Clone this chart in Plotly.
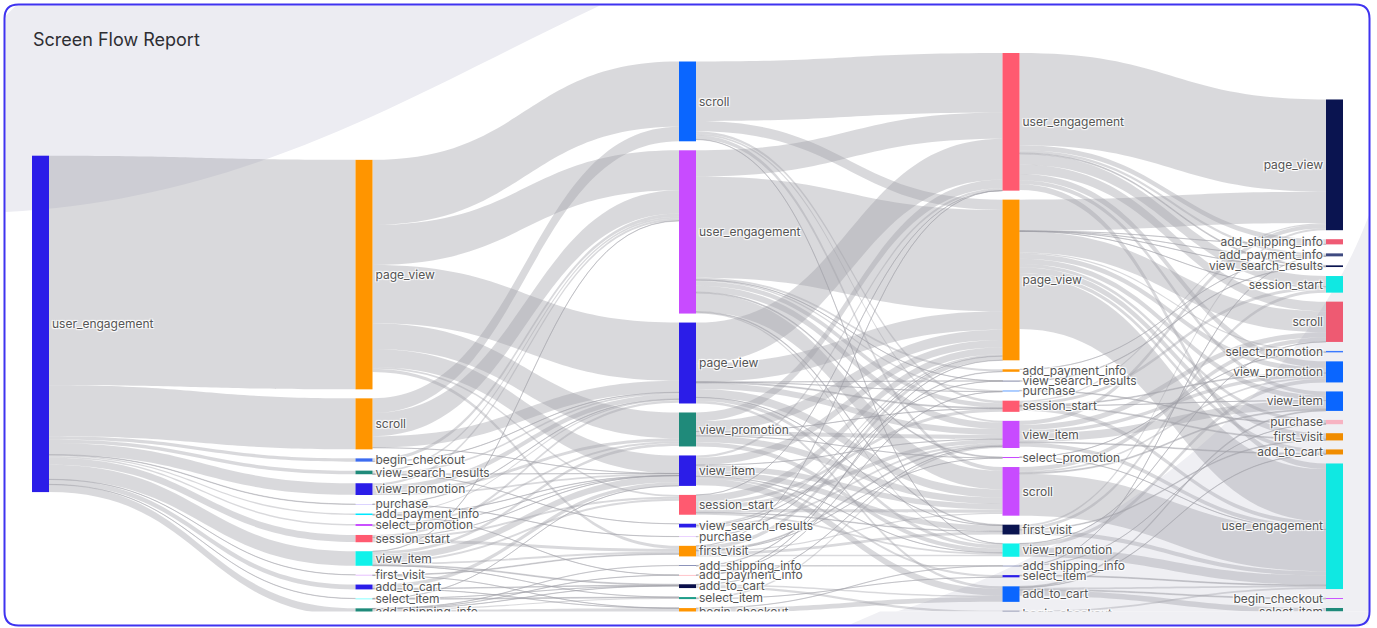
import plotly.graph_objects as go

W, H = 1377, 628

# ---------------- data ----------------
step1_nodes = ["user_engagement"]
step2_nodes = ["page_view", "scroll", "begin_checkout", "view_search_results", "view_promotion",
               "purchase", "add_payment_info", "select_promotion", "session_start", "view_item",
               "add_to_cart", "first_visit", "select_item", "add_shipping_info"]
step3_nodes = ["scroll", "user_engagement", "page_view", "view_promotion", "view_item",
               "session_start", "first_visit", "view_search_results", "purchase", "add_payment_info",
               "add_shipping_info", "add_to_cart", "select_item", "begin_checkout"]
step4_nodes = ["user_engagement", "page_view", "add_payment_info", "purchase", "view_search_results",
               "session_start", "view_item", "first_visit", "select_promotion", "select_item",
               "scroll", "add_shipping_info", "begin_checkout", "view_promotion", "add_to_cart"]
step5_nodes = ["page_view", "add_shipping_info", "view_search_results", "add_payment_info",
               "select_promotion", "session_start", "scroll", "view_promotion", "view_item",
               "purchase", "first_visit", "add_to_cart", "user_engagement", "begin_checkout",
               "select_item"]

step1_colors = ["#2b1de8"]
step2_colors = ["#ff9500", "#ff9500", "#3d6cf0", "#1f8a7a", "#2b1de8", "#b9a9ff", "#00e8ff",
                "#c84bff", "#ff5a70", "#10f2ea", "#2b1de8", "#e0b0ff", "#80ffff", "#1f8a7a"]
step3_colors = ["#0a66ff", "#c84bff", "#2b1de8", "#1f8a7a", "#2b1de8", "#ff5a70", "#ff9500",
                "#2b1de8", "#d6a6ff", "#ff8a96", "#2e3a80", "#0a0f4a", "#1f9e8a", "#ff9500"]
step4_colors = ["#ff5a70", "#ff9500", "#ff9500", "#8ab8ff", "#0a1450", "#ff5a70", "#c84bff",
                "#0a1450", "#c84bff", "#2b1de8", "#c84bff", "#2e3a80", "#0a1450", "#10f2ea", "#0a66ff"]
step5_colors = ["#0a1450", "#ef5a74", "#0a1450", "#3e4a80", "#3a7aff", "#10e8e2", "#ee5a72",
                "#0a66ff", "#0a66ff", "#f7b3c2", "#f08c00", "#f08c00", "#10e8e2", "#c84bff", "#1f8a7a"]

flow_1_2 = [
    ("user_engagement", "page_view", 232.1), ("user_engagement", "scroll", 51.6),
    ("user_engagement", "begin_checkout", 3.3), ("user_engagement", "view_search_results", 3.6),
    ("user_engagement", "view_promotion", 11.6), ("user_engagement", "purchase", 0.45),
    ("user_engagement", "add_payment_info", 1.4), ("user_engagement", "select_promotion", 1.5),
    ("user_engagement", "session_start", 7), ("user_engagement", "view_item", 14.7),
    ("user_engagement", "add_to_cart", 4.9), ("user_engagement", "first_visit", 0.2),
    ("user_engagement", "select_item", 0.25), ("user_engagement", "add_shipping_info", 7.6),
]

flow_2_3 = [
    ("page_view", "scroll", 65.9), ("page_view", "user_engagement", 40.5), ("page_view", "page_view", 58.9),
    ("page_view", "view_promotion", 26.1), ("page_view", "view_item", 18.2), ("page_view", "session_start", 1.8),
    ("page_view", "first_visit", 3.1),
    ("scroll", "user_engagement", 23.5), ("scroll", "page_view", 11.6), ("scroll", "scroll", 14.8),
    ("scroll", "view_item", 0.1),
    ("begin_checkout", "user_engagement", 3.1), ("begin_checkout", "page_view", 0.2),
    ("view_search_results", "page_view", 1.7), ("view_search_results", "user_engagement", 1.8),
    ("view_search_results", "view_search_results", 0.1), ("view_search_results", "view_item", 0.05),
    ("view_promotion", "page_view", 4.9), ("view_promotion", "view_promotion", 3),
    ("view_promotion", "user_engagement", 2.3), ("view_promotion", "view_item", 1.7),
    ("purchase", "page_view", 0.35), ("purchase", "purchase", 0.15),
    ("add_payment_info", "page_view", 1.1), ("add_payment_info", "add_payment_info", 0.15),
    ("add_payment_info", "view_item", 0.3),
    ("select_promotion", "view_item", 0.05), ("select_promotion", "view_promotion", 1.9),
    ("session_start", "page_view", 2.4), ("session_start", "session_start", 2),
    ("session_start", "first_visit", 2.9), ("session_start", "view_item", 0.05),
    ("view_item", "view_item", 6.6), ("view_item", "user_engagement", 0.25), ("view_item", "session_start", 2.1),
    ("view_item", "first_visit", 1.9), ("view_item", "add_to_cart", 0.9), ("view_item", "select_item", 0.05),
    ("view_item", "view_promotion", 2.8),
    ("add_to_cart", "view_item", 3.7), ("add_to_cart", "begin_checkout", 0.1), ("add_to_cart", "add_to_cart", 0.6),
    ("first_visit", "first_visit", 0.75), ("first_visit", "begin_checkout", 0.05),
    ("select_item", "add_to_cart", 0.1), ("select_item", "view_item", 0.05), ("select_item", "select_item", 0.8),
    ("add_shipping_info", "begin_checkout", 6), ("add_shipping_info", "add_payment_info", 0.15),
    ("add_shipping_info", "add_shipping_info", 0.2), ("add_shipping_info", "add_to_cart", 0.2),
    ("add_shipping_info", "select_item", 1.2),
]

flow_3_4 = [
    ("scroll", "user_engagement", 60.1), ("scroll", "page_view", 10.5), ("scroll", "scroll", 3.8),
    ("scroll", "view_item", 1.8), ("scroll", "view_promotion", 0.3), ("scroll", "session_start", 2.5),
    ("user_engagement", "page_view", 102.4), ("user_engagement", "user_engagement", 26.5),
    ("user_engagement", "scroll", 18.7), ("user_engagement", "view_item", 6.4),
    ("user_engagement", "session_start", 4.5), ("user_engagement", "first_visit", 0.8),
    ("user_engagement", "view_promotion", 1.3), ("user_engagement", "select_promotion", 0.95),
    ("user_engagement", "add_payment_info", 2.1), ("user_engagement", "view_search_results", 0.15),
    ("user_engagement", "purchase", 1.3),
    ("page_view", "user_engagement", 41.4), ("page_view", "page_view", 18.7), ("page_view", "scroll", 8.4),
    ("page_view", "view_item", 6), ("page_view", "view_promotion", 3.5), ("page_view", "session_start", 1),
    ("page_view", "first_visit", 0.1), ("page_view", "add_to_cart", 2.6),
    ("page_view", "view_search_results", 0.1), ("page_view", "purchase", 0.05),
    ("view_promotion", "page_view", 10.3), ("view_promotion", "scroll", 6.4),
    ("view_promotion", "user_engagement", 8.9), ("view_promotion", "view_item", 4.3),
    ("view_promotion", "view_promotion", 4.3), ("view_promotion", "select_promotion", 0.05),
    ("view_promotion", "session_start", 0.1),
    ("view_item", "page_view", 7.5), ("view_item", "scroll", 5.6), ("view_item", "user_engagement", 2.2),
    ("view_item", "view_item", 0.1), ("view_item", "add_to_cart", 6.8), ("view_item", "view_promotion", 0.15),
    ("view_item", "select_item", 2.2), ("view_item", "first_visit", 5.6),
    ("session_start", "page_view", 6.9), ("session_start", "user_engagement", 0.05),
    ("session_start", "scroll", 3.3), ("session_start", "session_start", 3.2),
    ("session_start", "first_visit", 0.6), ("session_start", "view_item", 4.1),
    ("session_start", "view_promotion", 1.9),
    ("first_visit", "page_view", 3.9), ("first_visit", "scroll", 1.3), ("first_visit", "first_visit", 2.8),
    ("first_visit", "view_item", 1), ("first_visit", "view_promotion", 1.6),
    ("first_visit", "select_promotion", 0.05), ("first_visit", "user_engagement", 0.05),
    ("view_search_results", "view_search_results", 0.1), ("view_search_results", "page_view", 1.7),
    ("view_search_results", "view_item", 2),
    ("purchase", "page_view", 0.35),
    ("add_payment_info", "purchase", 0.05), ("add_payment_info", "page_view", 0.25),
    ("add_shipping_info", "add_payment_info", 0.4), ("add_shipping_info", "add_shipping_info", 0.15),
    ("add_to_cart", "begin_checkout", 2.3), ("add_to_cart", "view_item", 0.15), ("add_to_cart", "add_to_cart", 1.4),
    ("select_item", "view_item", 1.6), ("select_item", "select_item", 0.05),
    ("begin_checkout", "add_shipping_info", 0.2), ("begin_checkout", "add_to_cart", 4.9),
    ("begin_checkout", "begin_checkout", 2.9),
]

flow_4_5 = [
    ("user_engagement", "page_view", 93.2), ("user_engagement", "add_shipping_info", 5.1),
    ("user_engagement", "view_search_results", 1), ("user_engagement", "add_payment_info", 2.7),
    ("user_engagement", "session_start", 10.8), ("user_engagement", "scroll", 9.6),
    ("user_engagement", "view_promotion", 6.3), ("user_engagement", "view_item", 4.1),
    ("user_engagement", "user_engagement", 5.7),
    ("page_view", "page_view", 31.6), ("page_view", "add_shipping_info", 0.15),
    ("page_view", "view_search_results", 0.2), ("page_view", "add_payment_info", 0.05),
    ("page_view", "select_promotion", 1.3), ("page_view", "session_start", 0.1), ("page_view", "scroll", 21.4),
    ("page_view", "view_promotion", 5.1), ("page_view", "view_item", 5.1), ("page_view", "purchase", 3.5),
    ("page_view", "first_visit", 5.6), ("page_view", "add_to_cart", 3.9), ("page_view", "user_engagement", 52.8),
    ("add_payment_info", "add_payment_info", 0.1),
    ("purchase", "purchase", 0.7),
    ("view_search_results", "view_search_results", 0.5),
    ("session_start", "page_view", 1.4), ("session_start", "session_start", 3),
    ("session_start", "view_promotion", 0.8), ("session_start", "view_item", 0.1),
    ("session_start", "first_visit", 0.95), ("session_start", "user_engagement", 4),
    ("view_item", "page_view", 4.1), ("view_item", "scroll", 5.3), ("view_item", "view_promotion", 3.6),
    ("view_item", "view_item", 8.4), ("view_item", "add_to_cart", 0.8), ("view_item", "user_engagement", 4.1),
    ("first_visit", "page_view", 1.9), ("first_visit", "session_start", 2.9), ("first_visit", "first_visit", 0.75),
    ("first_visit", "user_engagement", 4.3),
    ("select_promotion", "select_promotion", 0.15), ("select_promotion", "user_engagement", 0.15),
    ("select_item", "user_engagement", 0.85),
    ("scroll", "scroll", 4.2), ("scroll", "view_promotion", 1.7), ("scroll", "view_item", 1),
    ("scroll", "user_engagement", 42.3),
    ("add_shipping_info", "add_payment_info", 0.15), ("add_shipping_info", "purchase", 0.15),
    ("begin_checkout", "user_engagement", 1.7), ("begin_checkout", "select_item", 2.6),
    ("view_promotion", "scroll", 0.25), ("view_promotion", "view_promotion", 3.8),
    ("view_promotion", "user_engagement", 9.4),
    ("add_to_cart", "view_item", 1), ("add_to_cart", "add_to_cart", 0.4), ("add_to_cart", "user_engagement", 1.7),
    ("add_to_cart", "begin_checkout", 0.95), ("add_to_cart", "select_item", 5.5),
]

# ---------------- build sankey ----------------
steps_nodes = [step1_nodes, step2_nodes, step3_nodes, step4_nodes, step5_nodes]
steps_colors = [step1_colors, step2_colors, step3_colors, step4_colors, step5_colors]
flows = [flow_1_2, flow_2_3, flow_3_4, flow_4_5]

labels, colors, index = [], [], {}
for s, (names, cols) in enumerate(zip(steps_nodes, steps_colors)):
    for n, c in zip(names, cols):
        index[(s, n)] = len(labels)
        labels.append(n)
        colors.append(c)

src, tgt, val = [], [], []
for s, flow in enumerate(flows):
    for a, b, v in flow:
        src.append(index[(s, a)])
        tgt.append(index[(s + 1, b)])
        val.append(v)


def px(x):
    return x / W


def py(y):
    return 1 - y / H


fig = go.Figure(go.Sankey(
    arrangement="snap",
    domain=dict(x=[px(32), px(1343)], y=[py(616), py(53)]),
    node=dict(label=labels, color=colors, pad=9, thickness=17, line=dict(width=0)),
    link=dict(source=src, target=tgt, value=val, color="rgba(160,160,168,0.4)"),
    textfont=dict(family="Inter, Open Sans, sans-serif", size=12, color="#555"),
))


def rounded_rect(x0, y0, x1, y1, r):
    return (f"M {px(x0 + r)},{py(y0)} L {px(x1 - r)},{py(y0)} "
            f"Q {px(x1)},{py(y0)} {px(x1)},{py(y0 + r)} "
            f"L {px(x1)},{py(y1 - r)} Q {px(x1)},{py(y1)} {px(x1 - r)},{py(y1)} "
            f"L {px(x0 + r)},{py(y1)} Q {px(x0)},{py(y1)} {px(x0)},{py(y1 - r)} "
            f"L {px(x0)},{py(y0 + r)} Q {px(x0)},{py(y0)} {px(x0 + r)},{py(y0)} Z")


shapes = [
    dict(type="path", xref="paper", yref="paper", layer="below",
         path=rounded_rect(4.5, 4.5, 1369.5, 625.5, 14), fillcolor="#ffffff", line=dict(width=0)),
    dict(type="path", xref="paper", yref="paper", layer="below",
         path=(f"M {px(16)},{py(5.5)} L {px(600)},{py(5.5)} "
               f"C {px(420)},{py(90)} {px(250)},{py(200)} {px(5.5)},{py(212)} "
               f"L {px(5.5)},{py(16)} Z"),
         fillcolor="#ececf2", line=dict(width=0)),
    dict(type="path", xref="paper", yref="paper", layer="below",
         path=(f"M {px(1369)},{py(215)} L {px(1369)},{py(612)} L {px(1355)},{py(625)} "
               f"L {px(850)},{py(625)} C {px(1100)},{py(560)} {px(1300)},{py(400)} {px(1369)},{py(215)} Z"),
         fillcolor="#efeff3", line=dict(width=0)),
    dict(type="rect", xref="paper", yref="paper", layer="above",
         x0=px(5.5), x1=px(1368.5), y0=py(624.5), y1=py(611.5),
         fillcolor="#ffffff", line=dict(width=0)),
    dict(type="path", xref="paper", yref="paper", layer="above",
         path=(f"M {px(880)},{py(611.5)} L {px(1368.5)},{py(611.5)} "
               f"L {px(1368.5)},{py(624.5)} L {px(850)},{py(624.5)} Z"),
         fillcolor="#f0f0f4", line=dict(width=0)),
    dict(type="path", xref="paper", yref="paper", layer="above",
         path=rounded_rect(4.5, 4.5, 1369.5, 625.5, 14), line=dict(color="#3f33f0", width=2)),
]

fig.update_layout(
    width=W, height=H,
    margin=dict(l=0, r=0, t=0, b=0),
    paper_bgcolor="#ffffff",
    font=dict(family="Inter, Open Sans, sans-serif", color="#555"),
    shapes=shapes,
    annotations=[dict(text="Screen Flow Report", x=px(31), y=py(39), xref="paper", yref="paper",
                      xanchor="left", yanchor="middle", showarrow=False,
                      font=dict(family="Inter, Open Sans, sans-serif", size=18, color="#2e2e33"))],
)

fig.write_html("out.html")
